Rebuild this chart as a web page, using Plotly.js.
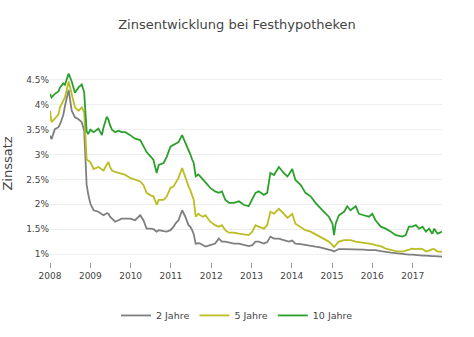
<!DOCTYPE html>
<html>
<head>
<meta charset="utf-8">
<script src="https://cdn.plot.ly/plotly-3.0.1.min.js"></script>
<style>html,body{margin:0;padding:0;background:#fff;}#chart{width:474px;height:337px;}</style>
</head>
<body>
<div id="chart"></div>
<script>
const dates = [
"2008-01-01","2008-01-15","2008-02-14","2008-03-18","2008-04-01","2008-05-01","2008-05-15","2008-06-18","2008-07-16","2008-08-14",
"2008-09-16","2008-10-15","2008-11-06","2008-11-20","2008-11-28","2008-12-12","2009-01-01","2009-01-30","2009-03-15","2009-04-16",
"2009-05-01","2009-05-30","2009-06-14","2009-06-28","2009-07-16","2009-08-14","2009-09-13","2009-10-12","2009-11-14","2009-12-28",
"2010-02-10","2010-03-29","2010-04-27","2010-05-26","2010-07-02","2010-07-27","2010-08-25","2010-09-13","2010-10-27","2010-11-25",
"2010-12-28","2011-01-26","2011-02-10","2011-03-11","2011-04-13","2011-05-12","2011-06-10","2011-06-25","2011-07-13","2011-07-27",
"2011-08-14","2011-09-06","2011-09-24","2011-10-19","2011-11-10","2011-12-24","2012-02-06","2012-03-10","2012-04-08","2012-05-08",
"2012-06-10","2012-07-24","2012-09-09","2012-10-23","2012-12-06","2013-01-08","2013-02-06","2013-03-07","2013-04-23","2013-05-23",
"2013-06-21","2013-07-24","2013-09-06","2013-10-20","2013-11-22","2013-12-06","2014-01-05","2014-02-03","2014-03-22","2014-05-05",
"2014-06-21","2014-08-04","2014-09-06","2014-10-20","2014-12-03","2015-01-05","2015-01-19","2015-02-03","2015-03-04","2015-04-20",
"2015-05-19","2015-06-17","2015-08-04","2015-09-02","2015-10-16","2015-12-02","2016-01-01","2016-01-30","2016-03-18","2016-05-01",
"2016-06-18","2016-08-01","2016-10-01","2016-10-30","2016-11-28","2016-12-28","2017-01-30","2017-02-28","2017-04-01","2017-05-01",
"2017-05-30","2017-06-28","2017-07-16","2017-08-14","2017-09-24"
];
const jahre2 = [
3.38,3.31,3.51,3.55,3.61,3.80,3.97,4.30,3.88,3.75,
3.71,3.65,3.48,2.68,2.40,2.21,2.01,1.88,1.85,1.80,
1.78,1.82,1.81,1.75,1.71,1.65,1.68,1.71,1.71,1.71,
1.68,1.78,1.68,1.51,1.51,1.50,1.45,1.48,1.46,1.45,
1.48,1.55,1.61,1.68,1.88,1.75,1.58,1.55,1.48,1.40,
1.21,1.22,1.21,1.18,1.15,1.18,1.21,1.31,1.25,1.25,
1.23,1.21,1.21,1.19,1.16,1.18,1.25,1.25,1.21,1.24,
1.35,1.31,1.31,1.28,1.25,1.25,1.27,1.21,1.20,1.18,
1.17,1.15,1.14,1.12,1.09,1.07,1.05,1.07,1.10,1.10,
1.10,1.10,1.09,1.09,1.09,1.08,1.08,1.08,1.06,1.04,
1.03,1.02,1.00,1.00,0.99,0.99,0.98,0.98,0.97,0.97,
0.96,0.96,0.96,0.95,0.95
];
const jahre5 = [
3.88,3.65,3.72,3.81,3.95,4.08,4.15,4.47,4.21,3.95,
3.88,3.95,3.85,3.21,2.91,2.88,2.85,2.71,2.75,2.70,
2.68,2.80,2.85,2.75,2.68,2.65,2.63,2.61,2.59,2.53,
2.49,2.46,2.39,2.23,2.18,2.16,1.99,2.09,2.09,2.16,
2.33,2.36,2.42,2.53,2.73,2.53,2.36,2.29,2.18,2.09,
1.75,1.81,1.78,1.75,1.78,1.65,1.58,1.55,1.58,1.48,
1.43,1.43,1.41,1.40,1.38,1.45,1.58,1.55,1.51,1.58,
1.85,1.81,1.91,1.81,1.73,1.75,1.81,1.61,1.55,1.48,
1.45,1.40,1.35,1.31,1.25,1.18,1.14,1.18,1.25,1.28,
1.28,1.28,1.25,1.24,1.23,1.22,1.20,1.18,1.16,1.11,
1.09,1.06,1.05,1.07,1.10,1.11,1.10,1.11,1.10,1.05,
1.07,1.10,1.10,1.05,1.05
];
const jahre10 = [
4.22,4.15,4.22,4.27,4.35,4.43,4.40,4.63,4.47,4.24,
4.35,4.41,4.25,3.80,3.47,3.41,3.50,3.45,3.52,3.39,
3.55,3.76,3.70,3.59,3.50,3.45,3.48,3.45,3.45,3.39,
3.32,3.29,3.16,3.05,2.96,2.89,2.63,2.79,2.83,2.96,
3.16,3.19,3.22,3.25,3.39,3.25,3.08,3.01,2.90,2.83,
2.56,2.60,2.56,2.50,2.45,2.33,2.26,2.23,2.26,2.09,
2.03,2.03,2.06,1.99,1.96,2.09,2.23,2.26,2.19,2.23,
2.63,2.59,2.75,2.63,2.56,2.60,2.71,2.49,2.39,2.23,
2.16,2.03,1.96,1.85,1.75,1.61,1.38,1.61,1.78,1.85,
1.96,1.88,1.96,1.81,1.78,1.75,1.81,1.68,1.55,1.51,
1.45,1.38,1.35,1.38,1.55,1.55,1.58,1.51,1.55,1.45,
1.51,1.41,1.51,1.41,1.45
];
const seriesNames = ["2 Jahre","5 Jahre","10 Jahre"];
const seriesColors = ["#7f7f7f","#bcbd22","#2ca02c"];
const seriesValues = [jahre2, jahre5, jahre10];
const yTickVals = [1,1.5,2,2.5,3,3.5,4,4.5];
const yTickText = ["1%","1.5%","2%","2.5%","3%","3.5%","4%","4.5%"];

const traces = seriesValues.map((v,i)=>({
  type:"scatter", mode:"lines", name:seriesNames[i], x:dates, y:v,
  line:{color:seriesColors[i], width:1.8}
}));

const font = "DejaVu Sans, Verdana, sans-serif";
const layout = {
  width:474, height:337,
  margin:{l:50, r:32, t:65, b:75},
  paper_bgcolor:"#fff", plot_bgcolor:"#fff",
  font:{family:font, size:9, color:"#444"},
  title:{text:"Zinsentwicklung bei Festhypotheken", font:{family:font, size:13, color:"#444"}, x:0.5, xanchor:"center", y:0.94},
  showlegend:true,
  legend:{orientation:"h", xref:"container", yref:"container", x:0.5, xanchor:"center", y:0.107, yanchor:"top", font:{family:font, size:9.5, color:"#444"}},
  xaxis:{type:"date", range:["2008-01-01","2017-09-24"], dtick:"M12", tickformat:"%Y",
    ticks:"outside", ticklen:5, tickcolor:"#999", showgrid:false, zeroline:false, showline:false,
    tickfont:{family:font, size:9, color:"#444"}},
  yaxis:{range:[0.84,4.80], tickmode:"array", tickvals:yTickVals, ticktext:yTickText, showgrid:true, gridcolor:"#eee",
    zeroline:false, showline:false, tickfont:{family:font, size:9, color:"#444"},
    title:{text:"Zinssatz", font:{family:font, size:13, color:"#444"}, standoff:10}}
};
Plotly.newPlot("chart", traces, layout, {displayModeBar:false, staticPlot:true});
</script>
</body>
</html>
